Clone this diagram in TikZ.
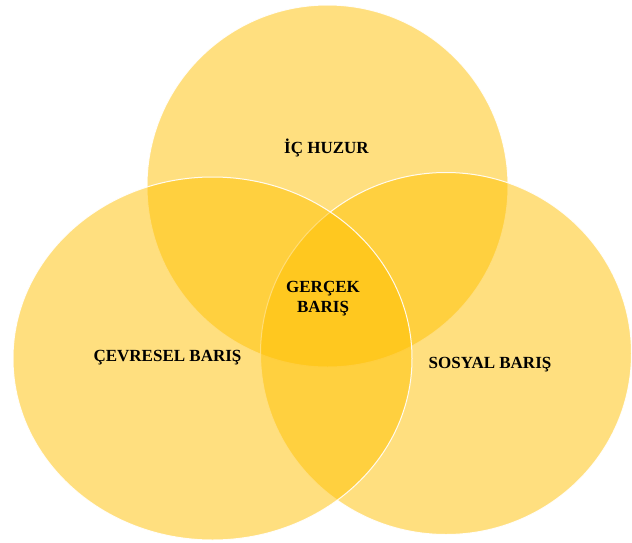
\documentclass[tikz,border=0pt]{standalone}
\usepackage{fontspec}
\setmainfont{Liberation Serif}
\definecolor{venn}{HTML}{FFC000}
\begin{document}
\begin{tikzpicture}[x=1pt,y=-1pt,
  vset/.style={fill=venn,fill opacity=0.5,draw=white,draw opacity=0.9,line width=1pt},
  vlabel/.style={font=\fontsize{17}{20}\selectfont\bfseries,text=black,align=center,inner sep=0pt}]
\useasboundingbox (0,0) rectangle (632,542);
\path[vset] (327.5,186) ellipse [x radius=180.5, y radius=181];
\path[vset] (446,353.5) ellipse [x radius=185.5, y radius=181];
\path[vset] (212.5,358.5) ellipse [x radius=199.5, y radius=181.5];
\node[vlabel] (ic) at (326.5,148) {İÇ HUZUR};
\node[vlabel] (gercek) at (323,299) {GERÇEK\\BARIŞ};
\node[vlabel] (cevre) at (167.5,357.5) {ÇEVRESEL BARIŞ};
\node[vlabel] (sosyal) at (490,365) {SOSYAL BARIŞ};
\end{tikzpicture}
\end{document}
